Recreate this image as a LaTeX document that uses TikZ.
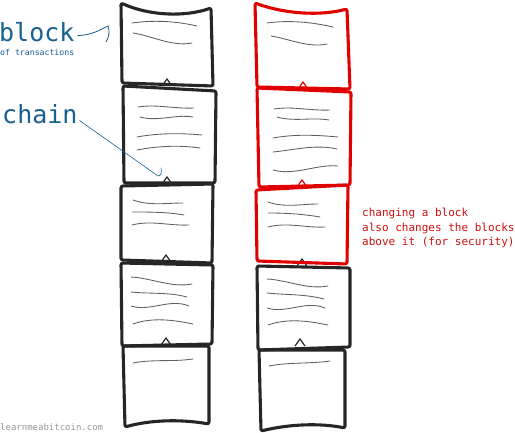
\documentclass[tikz,border=0pt]{standalone}
\usepackage{fontspec}
\newfontfamily\mono{DejaVu Sans Mono}
\definecolor{ink}{RGB}{38,38,38}
\definecolor{redink}{RGB}{225,0,0}
\definecolor{blueink}{RGB}{22,96,146}
\definecolor{lineg}{RGB}{95,95,95}
\definecolor{redtext}{RGB}{205,15,15}
\definecolor{credit}{RGB}{150,150,158}
\tikzset{
  blk/.style={line width=3.1pt, line join=round, line cap=round, rounded corners=2pt},
  tri/.style={line width=1.2pt, line join=miter},
  txl/.style={draw=lineg, line width=0.85pt, line cap=round},
  lbl/.style={inner sep=0pt, text=blueink},
}
\newcommand\wl[6]{\draw[txl] (#1,#2) .. controls ({#1+(#3-#1)/3},{#2+#5}) and ({#1+2*(#3-#1)/3},{#4+#6}) .. (#3,#4);}
\newcommand\tr[2]{\draw[tri] ({#1-5},{#2}) -- (#1,{#2-7}) -- ({#1+5},{#2});}
\begin{document}
\begin{tikzpicture}[x=1pt,y=-1pt]
\useasboundingbox (0,0) rectangle (515,433);
% ---------- left column ----------
\begin{scope}[draw=ink]
\draw[blk] (121,3) .. controls (150,16) and (185,17) .. (211,8) -- (213,86) -- (122,83) -- cycle;
\draw[blk] (123,86) -- (216,91) -- (215,183) -- (124,183) -- cycle;
\draw[blk] (121,186) -- (213,184) -- (212,263) -- (121,260) -- cycle;
\draw[blk] (121,263) -- (213,265) -- (212,344) -- (122,346) -- cycle;
\draw[blk] (123,346) -- (209,346) -- (209,424) .. controls (180,419) and (150,420) .. (125,427) -- cycle;
\tr{167}{86}\tr{167}{184}\tr{166}{262}\tr{166}{345}
\end{scope}
\wl{132}{23}{197}{26}{-3}{-5}
\wl{133}{33}{192}{43}{3}{4}
\wl{138}{107}{194}{108}{-3}{1}
\wl{140}{117}{193}{117}{5}{-3}
\wl{137}{137}{202}{135}{-4}{-2}
\wl{137}{150}{200}{148}{-4}{-3}
\wl{133}{200}{183}{203}{6}{0}
\wl{132}{212}{184}{215}{0}{-3}
\wl{132}{225}{189}{225}{-5}{1}
\wl{131}{277}{192}{284}{1}{4}
\wl{131}{292}{187}{297}{2}{-5}
\wl{131}{306}{189}{306}{6}{-8}
\wl{133}{324}{193}{324}{-7}{-4}
\wl{133}{363}{193}{359}{-4}{3}
% ---------- right column ----------
\begin{scope}[draw=ink]
\draw[blk] (257,266) -- (350,268) -- (350,347) -- (258,350) -- cycle;
\draw[blk] (259,350) -- (345,350) -- (345,428) .. controls (320,423) and (290,424) .. (261,431) -- cycle;
\tr{302}{266}\tr{300}{346}
\end{scope}
\begin{scope}[draw=redink]
\draw[blk] (255,3) .. controls (285,14) and (320,16) .. (347,9) -- (350,89) -- (257,87) -- cycle;
\draw[blk] (257,88) -- (351,92) -- (350,185) -- (259,187) -- cycle;
\draw[blk] (256,190) -- (348,185) -- (347,264) -- (257,261) -- cycle;
\tr{303}{89}\tr{302}{187}
\end{scope}
\wl{267}{23}{333}{27}{-3}{-5}
\wl{271}{36}{327}{44}{3}{4}
\wl{274}{109}{330}{110}{-3}{1}
\wl{277}{117}{329}{120}{5}{-3}
\wl{273}{138}{338}{137}{-4}{-2}
\wl{273}{152}{337}{149}{-2}{-5}
\wl{273}{170}{338}{166}{6}{-2}
\wl{268}{202}{318}{204}{6}{0}
\wl{268}{213}{320}{217}{0}{-3}
\wl{268}{227}{325}{227}{-5}{1}
\wl{267}{279}{328}{286}{1}{4}
\wl{267}{293}{324}{299}{2}{-5}
\wl{267}{308}{325}{308}{6}{-8}
\wl{268}{325}{328}{325}{-7}{-4}
\wl{269}{366}{330}{361}{-4}{3}
% ---------- labels ----------
\node[lbl, anchor=base west, font=\mono\fontsize{25}{25}\selectfont] (blocklbl) at (-1,42) {block};
\node[lbl, anchor=base west, font=\mono\fontsize{8.2}{9}\selectfont] (oftx) at (0,56) {of transactions};
\node[lbl, anchor=base west, font=\mono\fontsize{25}{25}\selectfont] (chainlbl) at (2,124) {chain};
\coordinate (bhook) at (108,26);
\coordinate (chook) at (158,176);
\draw[blueink, line width=0.8pt, line cap=round] (blocklbl.east) ++(3,3) .. controls (92,35) and (100,30) .. (bhook) .. controls (110,32) and (109,37) .. (106,42);
\draw[blueink, line width=0.6pt, line cap=round] (chainlbl.south east) ++(2,-4) -- (chook) .. controls (161,176) and (162,172) .. (161,168);
\node[anchor=base west, inner sep=0pt, text=redtext, font=\mono\fontsize{11}{14.5}\selectfont, align=left] (note) at (362,246) {changing a block\\also changes the blocks\\above it (for security)};
\node[anchor=base west, inner sep=0pt, text=credit, font=\mono\fontsize{9}{9}\selectfont] (credit) at (0,430) {learnmeabitcoin.com};
\end{tikzpicture}
\end{document}
